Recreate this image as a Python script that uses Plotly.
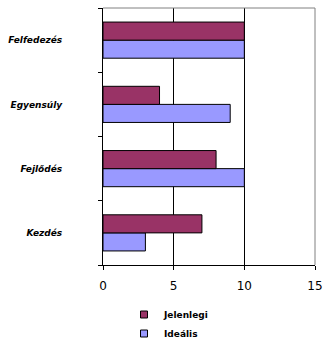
import plotly.graph_objects as go

categories = ["Kezdés", "Fejlődés", "Egyensúly", "Felfedezés"]
jelenlegi = [7, 8, 4, 10]
idealis = [3, 10, 9, 10]
x_ticks = [0, 5, 10, 15]
series_names = ["Jelenlegi", "Ideális"]
colors = ["#993366", "#9999FF"]

fig = go.Figure()
# Ideális first so that it sits lower in each group
fig.add_trace(go.Bar(y=categories, x=idealis, orientation="h", name=series_names[1],
                     marker=dict(color=colors[1], line=dict(color="black", width=1)),
                     showlegend=False))
fig.add_trace(go.Bar(y=categories, x=jelenlegi, orientation="h", name=series_names[0],
                     marker=dict(color=colors[0], line=dict(color="black", width=1)),
                     showlegend=False))
# legend proxies
for nm, c in zip(series_names, colors):
    fig.add_trace(go.Scatter(x=[None], y=[None], mode="markers", name=nm,
                             marker=dict(symbol="square", size=7, color=c,
                                         line=dict(color="black", width=1))))

fig.update_layout(
    width=331, height=341,
    margin=dict(l=103, r=16, t=8, b=76, autoexpand=False),
    paper_bgcolor="white", plot_bgcolor="white",
    barmode="group", bargap=0.4375, bargroupgap=0,
    font=dict(family="DejaVu Sans", color="black"),
    showlegend=True,
    legend=dict(xref="container", yref="container", x=124/331, y=1 - 300/341,
                xanchor="left", yanchor="top",
                font=dict(family="DejaVu Sans", size=9, weight="bold"),
                bgcolor="rgba(0,0,0,0)", itemwidth=30, tracegroupgap=0),
    xaxis=dict(range=[0, 15], tickvals=x_ticks, showgrid=True, gridcolor="black",
               gridwidth=1, zeroline=False, showline=True, linecolor="black",
               linewidth=1, ticks="outside", ticklen=4, tickcolor="black",
               tickfont=dict(size=12, family="DejaVu Sans"), ticklabelstandoff=6),
    yaxis=dict(type="category", categoryorder="array", categoryarray=categories,
               showgrid=False, showline=True, linecolor="black", linewidth=1,
               ticks="outside", tickson="boundaries", ticklen=4, tickcolor="black",
               tickfont=dict(size=9, family="DejaVu Sans", style="italic", weight="bold"),
               ticklabelstandoff=38, range=[-0.5, 3.5]),
    shapes=[
        dict(type="line", xref="paper", yref="paper", x0=0, x1=1, y0=1, y1=1,
             line=dict(color="#808080", width=1), layer="above"),
        dict(type="line", xref="paper", yref="paper", x0=1, x1=1, y0=0, y1=1,
             line=dict(color="#808080", width=1), layer="above"),
    ],
)

fig.write_html("out.html")
